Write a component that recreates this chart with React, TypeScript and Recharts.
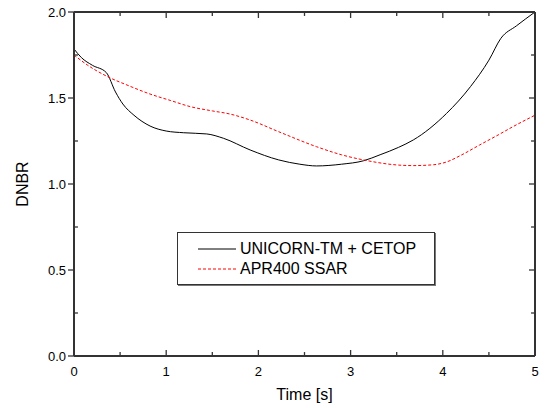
import React from "react";
import { LineChart, Line, XAxis, YAxis, Label, ReferenceLine } from "recharts";

// UNICORN-TM + CETOP (time [s], DNBR)
const unicornT = [0, 0.08, 0.2, 0.35, 0.45, 0.53, 0.65, 0.825, 1.0, 1.19, 1.44, 1.62, 1.91, 2.22, 2.45, 2.63, 2.9, 3.14, 3.32, 3.52, 3.68, 4.04, 4.3, 4.5, 4.63, 4.8, 5.0];
const unicornV = [1.785, 1.735, 1.69, 1.648, 1.535, 1.465, 1.4, 1.337, 1.308, 1.298, 1.291, 1.266, 1.198, 1.14, 1.115, 1.105, 1.115, 1.135, 1.17, 1.213, 1.256, 1.41, 1.566, 1.72, 1.847, 1.92, 2.0];

// APR400 SSAR
const ssarT = [0, 0.15, 0.35, 0.6, 0.825, 1.05, 1.26, 1.5, 1.69, 1.91, 2.22, 2.63, 2.9, 3.14, 3.52, 3.68, 3.9, 4.04, 4.2, 4.4, 4.6, 4.76, 5.0];
const ssarV = [1.75, 1.69, 1.628, 1.57, 1.523, 1.485, 1.45, 1.425, 1.407, 1.372, 1.304, 1.217, 1.17, 1.14, 1.11, 1.107, 1.112, 1.128, 1.168, 1.227, 1.285, 1.333, 1.4];

const xMajor = [0, 1, 2, 3, 4, 5];
const xMinor = [0.5, 1.5, 2.5, 3.5, 4.5];
const yMajor = [0, 0.5, 1, 1.5, 2];
const yMinor = [0.25, 0.75, 1.25, 1.75];

const series = [
  { name: "UNICORN-TM + CETOP", color: "#000", dash: undefined as string | undefined },
  { name: "APR400 SSAR", color: "#ff0000", dash: "3 2" },
];

const unicornData = unicornT.map((t, i) => ({ t, v: unicornV[i] }));
const ssarData = ssarT.map((t, i) => ({ t, v: ssarV[i] }));

const FONT = '"Liberation Sans", Arial, sans-serif';
const AXIS = "#333";
// inward tick lengths in data units (plot is ~461px for 5 s, ~344px for 2.0)
const TX_MAJ = 0.065;
const TX_MIN = 0.043;
const TY_MAJ = 0.035;
const TY_MIN = 0.023;

function LegendBox() {
  return (
    <div
      style={{
        position: "absolute",
        left: 177,
        top: 232,
        width: 256,
        border: "1px solid #333",
        boxShadow: "1px 1px 0 #777",
        background: "#fff",
        padding: "6px 0 5px 0",
        fontFamily: FONT,
        fontSize: 16,
        lineHeight: "20px",
      }}
    >
      {series.map((s) => (
        <div key={s.name} style={{ display: "flex", alignItems: "center" }}>
          <svg width={62} height={20}>
            <path d="M20,10H58" stroke={s.color} strokeWidth={1} strokeDasharray={s.dash} />
          </svg>
          <span>{s.name}</span>
        </div>
      ))}
    </div>
  );
}

const tickSeg = (key: string, a: { x: number; y: number }, b: { x: number; y: number }) => (
  <ReferenceLine key={key} segment={[a, b]} stroke={AXIS} strokeWidth={1.3} />
);

export default function App() {
  return (
    <div style={{ position: "absolute", left: 0, top: 0, width: 546, height: 408 }}>
      <LineChart width={546} height={408} margin={{ top: 11, right: 10, left: 0, bottom: 0 }}>
        <XAxis
          dataKey="t"
          type="number"
          domain={[0, 5]}
          ticks={xMajor}
          interval={0}
          tickLine={false}
          tickSize={0}
          tickMargin={11}
          height={52}
          tick={{ fontSize: 13, fontFamily: FONT, fill: "#000" }}
          stroke={AXIS}
          strokeWidth={2}
        >
          <Label value="Time [s]" position="insideBottom" offset={8} fontSize={16} fontFamily={FONT} fill="#000" stroke="none" />
        </XAxis>
        <XAxis
          xAxisId="top"
          orientation="top"
          type="number"
          domain={[0, 5]}
          ticks={xMajor}
          tickLine={false}
          tickFormatter={() => ""}
          height={1}
          stroke={AXIS}
          strokeWidth={2}
        />
        <YAxis
          type="number"
          domain={[0, 2]}
          ticks={yMajor}
          interval={0}
          tickSize={6}
          tickMargin={2}
          width={74}
          tickFormatter={(v: number) => v.toFixed(1)}
          tick={{ fontSize: 13, fontFamily: FONT, fill: "#000" }}
          tickLine={{ stroke: AXIS, strokeWidth: 1.3 }}
          stroke={AXIS}
          strokeWidth={2}
        >
          <Label
            value="DNBR"
            angle={-90}
            position="insideLeft"
            offset={22}
            style={{ fontFamily: FONT, fontSize: 16, fill: "#000", stroke: "none", textAnchor: "middle" }}
          />
        </YAxis>
        <YAxis
          yAxisId="right"
          orientation="right"
          type="number"
          domain={[0, 2]}
          ticks={yMajor}
          tickLine={false}
          tickFormatter={() => ""}
          width={1}
          stroke={AXIS}
          strokeWidth={2}
        />

        {/* box frame */}
        <ReferenceLine x={0} stroke={AXIS} strokeWidth={2} />
        <ReferenceLine x={5} stroke={AXIS} strokeWidth={2} />
        <ReferenceLine y={0} stroke={AXIS} strokeWidth={2} />
        <ReferenceLine y={2} stroke={AXIS} strokeWidth={2} />

        {/* inward ticks: bottom and top */}
        {xMajor.map((t) => tickSeg(`b${t}`, { x: t, y: 0 }, { x: t, y: TY_MAJ }))}
        {xMinor.map((t) => tickSeg(`bm${t}`, { x: t, y: 0 }, { x: t, y: TY_MIN }))}
        {xMajor.map((t) => tickSeg(`t${t}`, { x: t, y: 2 }, { x: t, y: 2 - TY_MAJ }))}
        {xMinor.map((t) => tickSeg(`tm${t}`, { x: t, y: 2 }, { x: t, y: 2 - TY_MIN }))}
        {/* inward ticks: left minor, right major and minor */}
        {yMinor.map((v) => tickSeg(`lm${v}`, { x: 0, y: v }, { x: TX_MIN, y: v }))}
        {yMajor.map((v) => tickSeg(`r${v}`, { x: 5, y: v }, { x: 5 - TX_MAJ, y: v }))}
        {yMinor.map((v) => tickSeg(`rm${v}`, { x: 5, y: v }, { x: 5 - TX_MIN, y: v }))}

        <Line
          data={unicornData}
          dataKey="v"
          name={series[0].name}
          type="monotone"
          stroke={series[0].color}
          strokeWidth={1}
          dot={false}
          isAnimationActive={false}
        />
        <Line
          data={ssarData}
          dataKey="v"
          name={series[1].name}
          type="monotone"
          stroke={series[1].color}
          strokeWidth={1}
          strokeDasharray={series[1].dash}
          dot={false}
          isAnimationActive={false}
        />
      </LineChart>
      <LegendBox />
    </div>
  );
}
